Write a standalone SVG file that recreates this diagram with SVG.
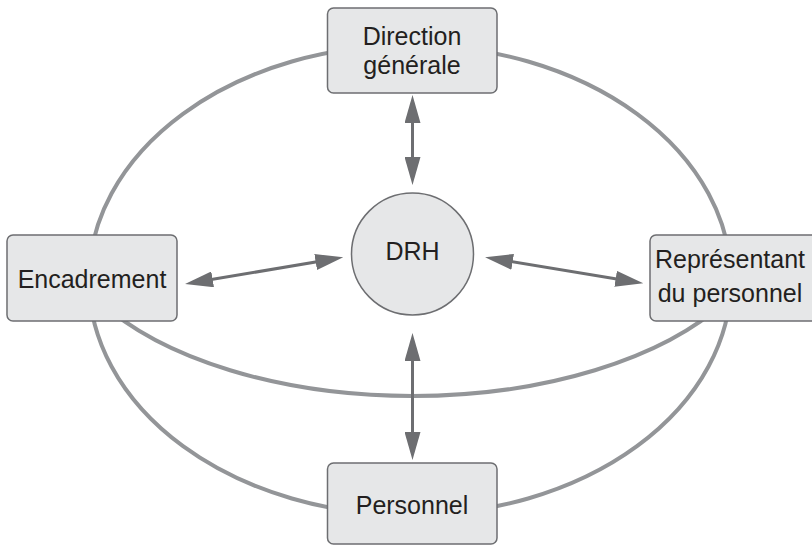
<svg xmlns="http://www.w3.org/2000/svg" width="812" height="546" viewBox="0 0 812 546">
  <style>
    .ring { fill: none; stroke: #939598; stroke-width: 4; }
    .box { fill: #e6e7e8; stroke: #6d6e71; stroke-width: 1.5; }
    .conn { stroke: #6d6e71; stroke-width: 3; fill: none; marker-start: url(#head); marker-end: url(#head); }
    .lbl { font-family: "Liberation Sans", Arial, sans-serif; font-size: 25px; fill: #231f20; text-anchor: middle; }
  </style>
  <defs>
    <marker id="head" viewBox="0 0 28 16" markerWidth="28" markerHeight="16" refX="18" refY="8" markerUnits="userSpaceOnUse" orient="auto-start-reverse">
      <path d="M0,0 L28,8 L0,16 Z" fill="#6d6e71"/>
    </marker>
  </defs>
  <rect width="812" height="546" fill="#ffffff"/>
  <g id="rings">
    <ellipse class="ring" cx="410" cy="280" rx="321" ry="235"/>
    <path class="ring" d="M 98 300 A 360 187 0 0 0 727 300"/>
  </g>
  <g id="connectors">
    <line class="conn" x1="412.5" y1="105" x2="412.5" y2="175"/>
    <line class="conn" x1="412.5" y1="343" x2="412.5" y2="450"/>
    <line class="conn" x1="194.9" y1="282.3" x2="333.4" y2="259"/>
    <line class="conn" x1="494.9" y1="258.9" x2="633.4" y2="281.7"/>
  </g>
  <g id="drh">
    <circle class="box" cx="412.5" cy="254" r="61"/>
    <text class="lbl" x="412.5" y="260">DRH</text>
  </g>
  <g id="direction">
    <rect class="box" x="327.5" y="8" width="169.5" height="85" rx="6"/>
    <text class="lbl" x="412" y="45">Direction</text>
    <text class="lbl" x="412" y="74">générale</text>
  </g>
  <g id="encadrement">
    <rect class="box" x="7" y="235" width="170" height="86" rx="6"/>
    <text class="lbl" x="92" y="288">Encadrement</text>
  </g>
  <g id="representant">
    <rect class="box" x="650" y="235" width="170" height="86" rx="6"/>
    <text class="lbl" x="730" y="268">Représentant</text>
    <text class="lbl" x="730" y="302">du personnel</text>
  </g>
  <g id="personnel">
    <rect class="box" x="327.5" y="463" width="169.5" height="81" rx="6"/>
    <text class="lbl" x="412" y="514">Personnel</text>
  </g>
</svg>
